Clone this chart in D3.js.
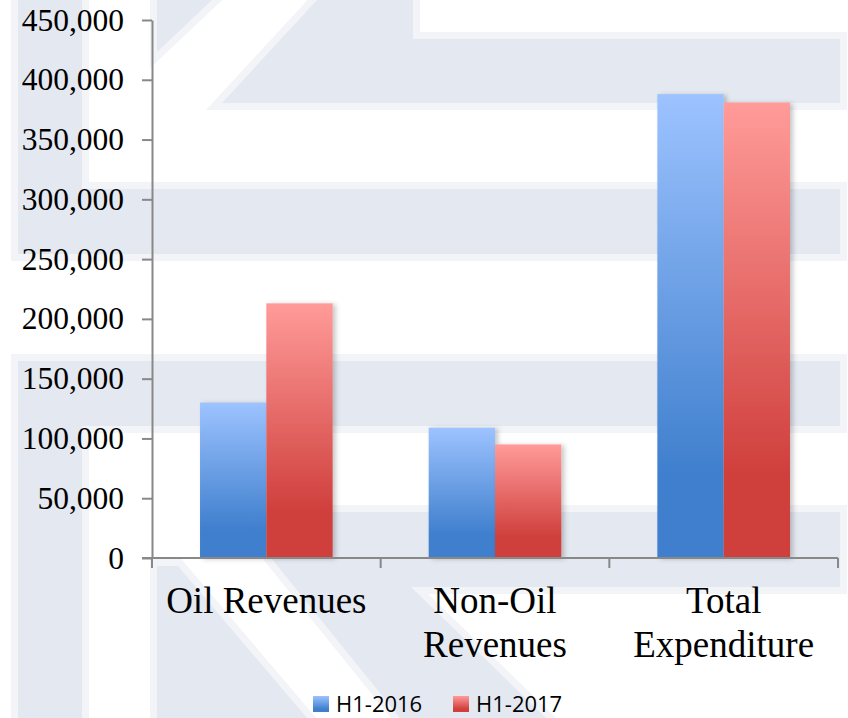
<!DOCTYPE html>
<html>
<head>
<meta charset="utf-8">
<script src="https://cdn.jsdelivr.net/npm/d3@7"></script>
<style>
  body { margin: 0; background: #fff; }
  svg { display: block; }
</style>
</head>
<body>
<div id="chart"></div>
<script>
// data
const categories = ["Oil Revenues", "Non-Oil Revenues", "Total Expenditure"];
const series = ["H1-2016", "H1-2017"];
const h12016 = [130000, 109000, 388000];
const h12017 = [213000, 95000, 381000];
const yTicks = [0, 50000, 100000, 150000, 200000, 250000, 300000, 350000, 400000, 450000];

const W = 848, H = 718;
const margin = {top: 20, right: 10, bottom: 160, left: 152};

const svg = d3.select("#chart").append("svg")
  .attr("width", W)
  .attr("height", H);

const defs = svg.append("defs");

// gradients for the two series
const grads = [
  {id: "gBlue", top: "#9dc3ff", bot: "#3f7fcd"},
  {id: "gRed", top: "#ff9b99", bot: "#cf3f3c"}
];
grads.forEach(g => {
  const lg = defs.append("linearGradient")
    .attr("id", g.id).attr("x1", 0).attr("y1", 0).attr("x2", 0).attr("y2", 1);
  lg.append("stop").attr("offset", "0%").attr("stop-color", g.top);
  lg.append("stop").attr("offset", "82%").attr("stop-color", g.bot);
  lg.append("stop").attr("offset", "100%").attr("stop-color", g.bot);
});

const shadow = defs.append("filter").attr("id", "shadow")
  .attr("x", "-10%").attr("y", "-10%").attr("width", "130%").attr("height", "120%");
shadow.append("feDropShadow")
  .attr("dx", 3).attr("dy", 1).attr("stdDeviation", 2.5)
  .attr("flood-color", "#000").attr("flood-opacity", 0.22);

// watermark in the background
const wm = [
  [[18,0],[82,0],[82,189],[840,189],[840,254],[18,254]],
  [[317,0],[413,0],[413,39],[840,39],[840,103],[222,103]],
  [[157,0],[212,0],[157,52]],
  [[18,361],[840,361],[840,426],[82,426],[82,718],[18,718]],
  [[234,512],[840,512],[840,587],[411,587],[546,718],[400,718]],
  [[157,566],[178,566],[307,718],[157,718]]
];
const bg = svg.append("g");
bg.selectAll(".halo").data(wm).enter().append("polygon")
  .attr("points", d => d.map(p => p.join(",")).join(" "))
  .attr("fill", "#f2f4f8")
  .attr("stroke", "#f2f4f8")
  .attr("stroke-width", 14)
  .attr("stroke-linejoin", "miter");
bg.selectAll(".shape").data(wm).enter().append("polygon")
  .attr("points", d => d.map(p => p.join(",")).join(" "))
  .attr("fill", "#e4e8f0");

// scales
const x = d3.scaleBand()
  .domain(categories)
  .range([margin.left, W - margin.right])
  .padding(0);

const bw = x.bandwidth();
const xSub = d3.scaleBand()
  .domain(series)
  .range([bw * 0.21, bw * 0.79])
  .padding(0);

const y = d3.scaleLinear()
  .domain([0, 450000])
  .range([H - margin.bottom, margin.top]);

// bars
const rows = categories.map((c, i) => ({cat: c, vals: [h12016[i], h12017[i]]}));
const fills = ["url(#gBlue)", "url(#gRed)"];

const groups = svg.selectAll(".cat")
  .data(rows)
  .enter().append("g")
  .attr("transform", d => `translate(${x(d.cat)},0)`);

groups.selectAll("rect")
  .data(d => d.vals.map((v, j) => ({s: series[j], v: v, j: j})))
  .enter().append("rect")
  .attr("x", d => xSub(d.s))
  .attr("y", d => y(d.v))
  .attr("width", xSub.bandwidth())
  .attr("height", d => y(0) - y(d.v))
  .attr("fill", d => fills[d.j])
  .attr("filter", "url(#shadow)");

// y axis
const yAxis = svg.append("g")
  .attr("transform", `translate(${margin.left},0)`)
  .call(d3.axisLeft(y).tickValues(yTicks).tickFormat(d3.format(",")).tickSize(10).tickSizeOuter(0).tickPadding(18));
yAxis.select(".domain").attr("stroke", "#888").attr("stroke-width", 2);
yAxis.selectAll(".tick line").attr("stroke", "#888").attr("stroke-width", 2);
yAxis.selectAll(".tick text")
  .attr("fill", "#000")
  .style("font-family", "'Liberation Serif', 'Times New Roman', serif")
  .style("font-size", "31.5px");

// x axis line and boundary ticks
const xAxis = svg.append("g");
xAxis.append("line")
  .attr("x1", margin.left - 10).attr("x2", W - margin.right)
  .attr("y1", y(0)).attr("y2", y(0))
  .attr("stroke", "#888").attr("stroke-width", 2);
const bounds = categories.map(c => x(c)).concat([x(categories[categories.length - 1]) + bw]);
xAxis.selectAll(".bt").data(bounds).enter().append("line")
  .attr("x1", d => d).attr("x2", d => d)
  .attr("y1", y(0)).attr("y2", y(0) + 10)
  .attr("stroke", "#888").attr("stroke-width", 2);

// category labels, wrapped to band width
const labels = svg.append("g")
  .style("font-family", "'Liberation Serif', 'Times New Roman', serif")
  .style("font-size", "37px")
  .attr("fill", "#000");

labels.selectAll("text")
  .data(categories)
  .enter().append("text")
  .attr("text-anchor", "middle")
  .attr("x", d => x(d) + bw / 2)
  .attr("y", 613)
  .each(function(d) {
    const t = d3.select(this);
    const words = d.split(" ");
    t.text(d);
    if (this.getComputedTextLength() > bw - 10) {
      t.text(null);
      words.forEach((w, k) => {
        t.append("tspan")
          .attr("x", x(d) + bw / 2)
          .attr("dy", k === 0 ? 0 : 44)
          .text(w);
      });
    }
  });

// legend
const legend = svg.append("g")
  .attr("transform", "translate(313,696)");
const li = legend.selectAll("g")
  .data(series)
  .enter().append("g")
  .attr("transform", (d, i) => `translate(${i * 140},0)`);
li.append("rect")
  .attr("width", 16).attr("height", 16)
  .attr("fill", (d, i) => fills[i]);
li.append("text")
  .attr("x", 23).attr("y", 15.5)
  .style("font-family", "'Open Sans', sans-serif")
  .style("font-size", "22px")
  .attr("fill", "#000")
  .text(d => d);
</script>
</body>
</html>
